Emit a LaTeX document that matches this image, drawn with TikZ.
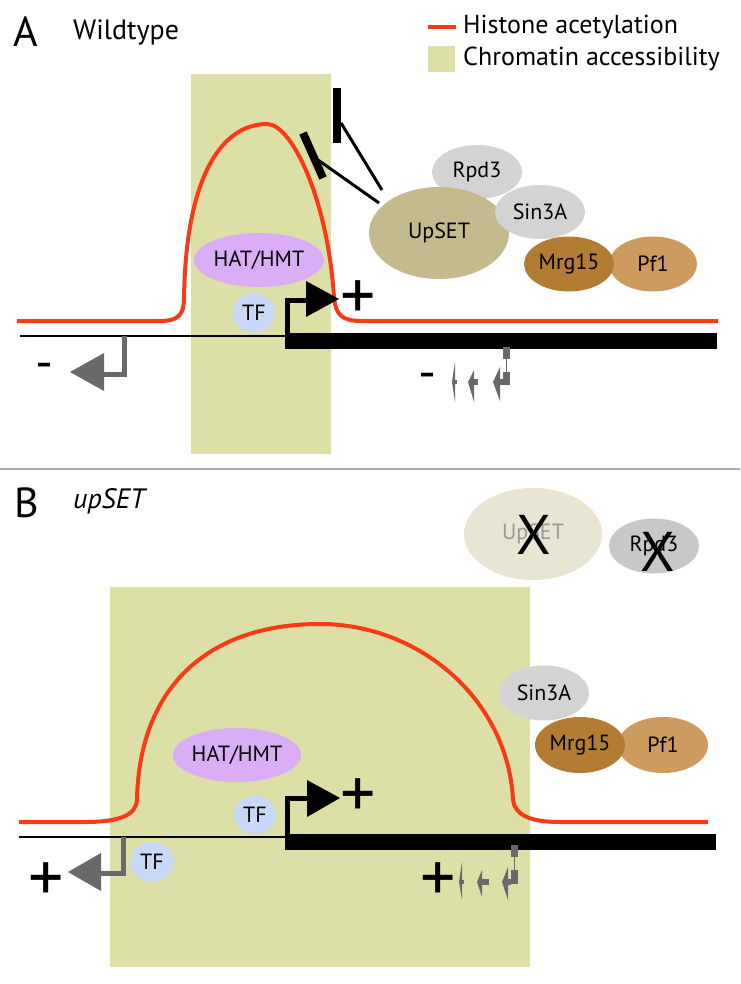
\documentclass[tikz,border=0pt]{standalone}
\usepackage{fontspec}
\setmainfont{PT Sans}
\usetikzlibrary{shapes.geometric}
\definecolor{acc}{RGB}{220,224,166}
\definecolor{acet}{RGB}{250,58,22}
\definecolor{tfblue}{RGB}{200,216,246}
\definecolor{hat}{RGB}{217,174,246}
\definecolor{upset}{RGB}{197,185,142}
\definecolor{upsetfade}{RGB}{232,229,211}
\definecolor{greyprot}{RGB}{211,211,211}
\definecolor{mrg}{RGB}{178,125,51}
\definecolor{pfone}{RGB}{204,155,93}
\definecolor{arrgrey}{RGB}{105,105,105}
\definecolor{sepgrey}{RGB}{170,170,170}
\begin{document}
\begin{tikzpicture}[x=1pt,y=-1pt,
  prot/.style={ellipse, inner sep=0pt, draw=none, font=\fontsize{22}{22}\selectfont},
  acetline/.style={draw=acet, line width=4pt, line join=round},
  dnathin/.style={draw=black, line width=2pt},
  dnathick/.style={fill=black},
  promoter/.style={draw=black, line width=5pt},
  revpromoter/.style={draw=arrgrey, line width=5pt},
  smallarrow/.style={fill=arrgrey},
  sign/.style={font=\fontsize{70}{70}\selectfont, inner sep=0pt},
  minus/.style={font=\fontsize{50}{50}\selectfont, inner sep=0pt},
  xmark/.style={font=\fontsize{56}{56}\selectfont, inner sep=0pt},
  inhib/.style={draw=black, line width=8pt},
  inhibline/.style={draw=black, line width=3pt}]
\useasboundingbox (0,0) rectangle (740,984);

% ---------------- Panel A ----------------
\node[anchor=base west, inner sep=0pt, font=\fontsize{42}{42}\selectfont] (labA) at (13,47) {A};
\node[anchor=base west, inner sep=0pt, font=\fontsize{28}{28}\selectfont] (wt) at (73,40) {Wildtype};

% legend
\draw[draw=acet, line width=4pt] (428,27) coordinate (legr1) -- (456,27) coordinate (legr2);
\node[anchor=base west, inner sep=0pt, font=\fontsize{26}{26}\selectfont] (leg1) at (463,34) {Histone acetylation};
\fill[acc] (428,46) rectangle (455,72);
\node[anchor=base west, inner sep=0pt, font=\fontsize{26}{26}\selectfont] (leg2) at (463,66) {Chromatin accessibility};

\fill[acc] (191,74) rectangle (331,454);

\draw[acetline] (17,321) -- (160,321) .. controls (178,321) and (184,315) .. (184,298)
  .. controls (186,170) and (225,124) .. (267,124)
  .. controls (292,124) and (328,200) .. (334,298)
  .. controls (336,315) and (342,321) .. (362,321) -- (718,321);

\draw[dnathin] (20,336) -- (287,336);
\fill[dnathick] (285,333) rectangle (717,349);

\node[prot, fill=hat, minimum width=130pt, minimum height=54pt] (hatA) at (259,260) {HAT/HMT};
\node[prot, fill=tfblue, minimum width=42pt, minimum height=40pt] (tfA) at (254,313) {TF};

% promoter arrow A
\draw[promoter] (287,342) -- (287,300) -- (310,300);
\fill[black] (306,281) -- (339,299) -- (306,317) -- cycle;
\node[sign] (plusA) at (358,300) {+};

% reverse promoter A
\draw[revpromoter] (124,336) -- (124,374) -- (100,374);
\fill[arrgrey] (104,353) -- (70,372) -- (104,391) -- cycle;
\node[minus] (minA1) at (44,371) {-};

% small arrows A
\node[minus] (minA2) at (427,381) {-};
\fill[smallarrow] (455,362) -- (452,382) -- (455,402) -- cycle;
\fill[smallarrow] (455,380) rectangle (457,384);
\fill[smallarrow] (474,370) -- (468,382) -- (474,402) -- cycle;
\fill[smallarrow] (474,379) rectangle (478,385);
\fill[smallarrow] (500,367) -- (493,382) -- (500,401) -- cycle;
\fill[smallarrow] (500,379) rectangle (504,385);
\fill[smallarrow] (503,372) rectangle (510,385);
\fill[smallarrow] (503,347) rectangle (510,359);
\draw[arrgrey, line width=0.6pt] (506.5,359) -- (506.5,372);

% proteins A
\node[prot, fill=greyprot, minimum width=90pt, minimum height=54pt] (rpdA) at (477,172) {Rpd3};
\node[prot, fill=upset, minimum width=140pt, minimum height=92pt] (upA) at (439,233) {UpSET};
\node[prot, fill=greyprot, minimum width=90pt, minimum height=54pt] (sinA) at (540,212) {Sin3A};
\node[prot, fill=pfone, minimum width=88pt, minimum height=55pt] (pfA) at (653,264) {Pf1};
\node[prot, fill=mrg, minimum width=90pt, minimum height=55pt] (mrgA) at (569,264) {Mrg15};

% inhibition
\draw[inhib] (337,88) -- (337,143);
\draw[inhib] (303,133) -- (323,178);
\coordinate (bar1) at (341,123);
\coordinate (bar2) at (318,160);
\coordinate (up1) at (382,190);
\coordinate (up2) at (379,203);
\draw[inhibline] (up1) -- (bar1);
\draw[inhibline] (up2) -- (bar2);

% separator
\draw[sepgrey, line width=2pt] (0,469) coordinate (s1) -- (740,469) coordinate (s2);

% ---------------- Panel B ----------------
\node[anchor=base west, inner sep=0pt, font=\fontsize{42}{42}\selectfont] (labB) at (14,517) {B};
\node[anchor=base west, inner sep=0pt, font=\fontsize{28}{28}\selectfont\itshape] (ups) at (73,508) {upSET};

\node[prot, fill=upsetfade, text=black!40, minimum width=138pt, minimum height=92pt] (upB) at (533,534) {UpSET};
\node[xmark] (xB1) at (534,535) {X};
\node[prot, fill=greyprot!95!black, minimum width=90pt, minimum height=55pt] (rpdB) at (654,546) {Rpd3};
\node[xmark] (xB2) at (658,552) {X};

\fill[acc] (110,587) rectangle (530,967);

\draw[acetline] (19,822) -- (85,822) .. controls (120,822) and (136,815) .. (137,800)
  .. controls (139,690) and (205,624) .. (320,624)
  .. controls (420,624) and (508,700) .. (513,800)
  .. controls (515,815) and (530,822) .. (560,822) -- (708,822);

\draw[dnathin] (19,837) -- (287,837);
\fill[dnathick] (285,834) rectangle (716,850);

\node[prot, fill=hat, minimum width=118pt, minimum height=54pt] (hatB) at (237,755) {HAT/HMT};
\node[prot, fill=tfblue, minimum width=42pt, minimum height=38pt] (tfB1) at (255,815) {TF};
\node[prot, fill=tfblue, minimum width=44pt, minimum height=40pt] (tfB2) at (152,862) {TF};

\node[prot, fill=greyprot, minimum width=90pt, minimum height=55pt] (sinB) at (544,693) {Sin3A};
\node[prot, fill=pfone, minimum width=90pt, minimum height=56pt] (pfB) at (663,745) {Pf1};
\node[prot, fill=mrg, minimum width=90pt, minimum height=56pt] (mrgB) at (580,745) {Mrg15};

% promoter B
\draw[promoter] (287,842) -- (287,798) -- (310,798);
\fill[black] (307,780) -- (340,798) -- (307,817) -- cycle;
\node[sign] (plusB1) at (358,798) {+};

% reverse promoter B
\draw[revpromoter] (123,837) -- (123,873) -- (99,873);
\fill[arrgrey] (101,853) -- (68,872) -- (101,891) -- cycle;
\node[sign] (plusB2) at (46,882) {+};

% small arrows B
\node[sign] (plusB3) at (438,882) {+};
\fill[smallarrow] (462,862) -- (459,882) -- (462,900) -- cycle;
\fill[smallarrow] (462,880) rectangle (464,884);
\fill[smallarrow] (482,870) -- (477,882) -- (482,897) -- cycle;
\fill[smallarrow] (482,879) rectangle (489,885);
\fill[smallarrow] (508,867) -- (502,882) -- (508,900) -- cycle;
\fill[smallarrow] (508,879) rectangle (511,885);
\fill[smallarrow] (511,870) rectangle (518,884);
\fill[smallarrow] (511,845) rectangle (518,857);
\draw[arrgrey, line width=0.6pt] (514.5,857) -- (514.5,870);
\end{tikzpicture}
\end{document}
